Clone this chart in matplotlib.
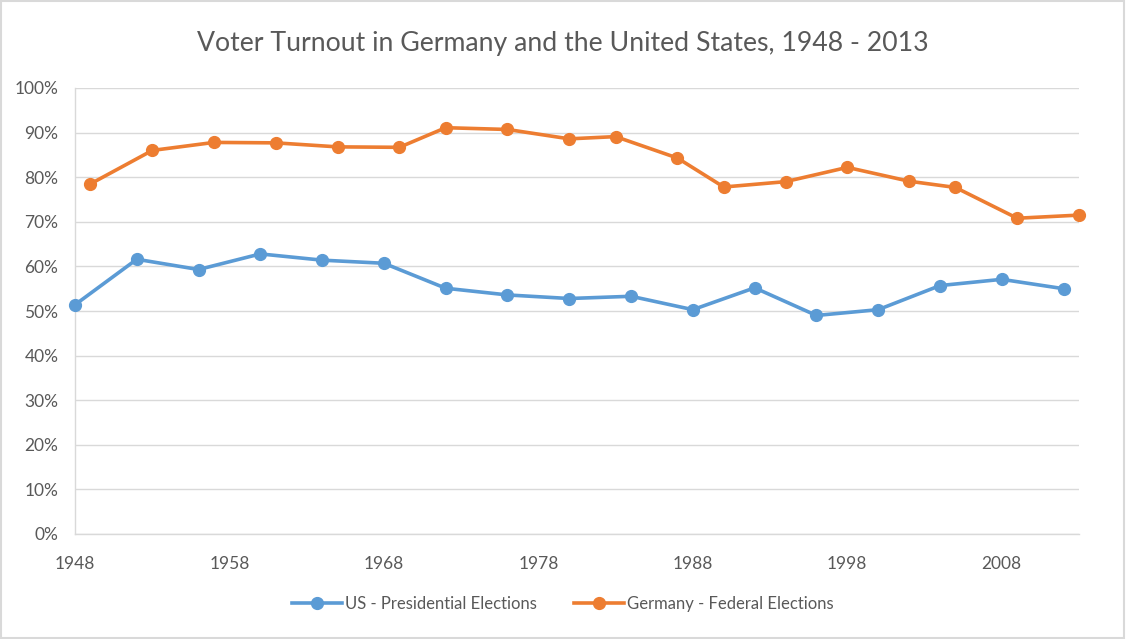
import matplotlib.pyplot as plt
from matplotlib.ticker import FuncFormatter
from matplotlib.patches import Rectangle

# US presidential election turnout (share of voting-age population)
us_years = [1948, 1952, 1956, 1960, 1964, 1968, 1972, 1976, 1980,
            1984, 1988, 1992, 1996, 2000, 2004, 2008, 2012]
us_turnout = [0.514, 0.616, 0.593, 0.628, 0.614, 0.607, 0.551, 0.536, 0.528,
              0.533, 0.503, 0.552, 0.490, 0.503, 0.557, 0.571, 0.550]

# German federal election turnout
de_years = [1949, 1953, 1957, 1961, 1965, 1969, 1972, 1976, 1980,
            1983, 1987, 1990, 1994, 1998, 2002, 2005, 2009, 2013]
de_turnout = [0.785, 0.860, 0.878, 0.877, 0.868, 0.867, 0.911, 0.907, 0.886,
              0.891, 0.843, 0.778, 0.790, 0.822, 0.791, 0.777, 0.708, 0.715]

x_ticks = [1948, 1958, 1968, 1978, 1988, 1998, 2008]
y_ticks = [i / 10 for i in range(11)]

BLUE = "#5B9BD5"
ORANGE = "#ED7D31"
TEXT = "#595959"
GRID = "#D9D9D9"

plt.rcParams['font.family'] = ['Lato', 'DejaVu Sans']

fig = plt.figure(figsize=(11.26, 6.39), dpi=100)
ax = fig.add_axes([75 / 1126, 1 - 534 / 639, (1079 - 75) / 1126, (534 - 88) / 639])

ax.plot(us_years, us_turnout, color=BLUE, lw=2.6, marker='o', ms=8.5,
        label="US - Presidential Elections", zorder=3, clip_on=False)
ax.plot(de_years, de_turnout, color=ORANGE, lw=2.6, marker='o', ms=8.5,
        label="Germany - Federal Elections", zorder=3, clip_on=False)

ax.set_xlim(1948, 2013)
ax.set_ylim(0, 1)
ax.set_xticks(x_ticks)
ax.set_yticks(y_ticks)
ax.yaxis.set_major_formatter(FuncFormatter(lambda v, p: f"{v * 100:.0f}%"))
ax.grid(axis='y', color=GRID, lw=1)
ax.set_axisbelow(True)
ax.tick_params(length=0, labelsize=12.5, colors=TEXT)
ax.tick_params(axis='x', pad=16)
ax.tick_params(axis='y', pad=12)
for s in ['top', 'right']:
    ax.spines[s].set_visible(False)
for s in ['left', 'bottom']:
    ax.spines[s].set_color(GRID)
    ax.spines[s].set_linewidth(1)

fig.text(0.5, 1 - 43 / 639, "Voter Turnout in Germany and the United States, 1948 - 2013",
         ha='center', va='center', fontsize=19.2, color=TEXT)

fig.legend(loc='center', bbox_to_anchor=(0.5, 1 - 604 / 639), ncol=2, frameon=False,
           fontsize=12, labelcolor=TEXT, handlelength=3, columnspacing=2.2,
           handletextpad=0.2)

fig.patches.append(Rectangle((0.001, 0.001), 0.997, 0.997, transform=fig.transFigure,
                             fill=False, edgecolor=GRID, lw=1.5))

fig.savefig("out.png", dpi=100)
